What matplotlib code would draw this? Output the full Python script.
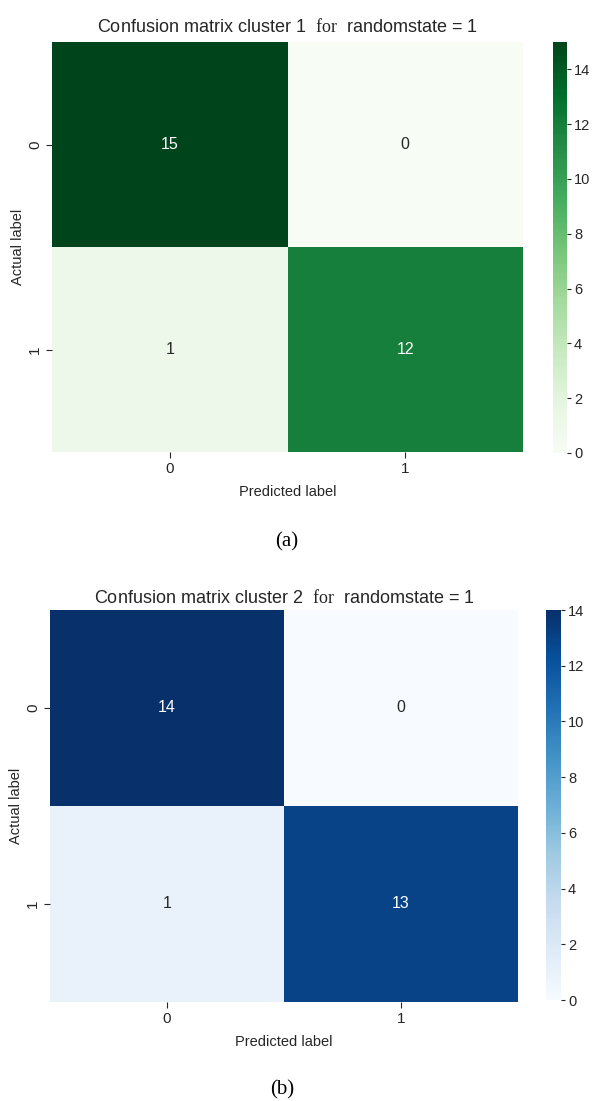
import matplotlib
matplotlib.use("Agg")
import matplotlib.pyplot as plt
import seaborn as sns
import numpy as np
from matplotlib import font_manager as fm

# ---- data ----
class_labels = ["0", "1"]
cm_cluster1 = [[15, 0], [1, 12]]
cm_cluster2 = [[14, 0], [1, 13]]
vmax1 = 15
vmax2 = 14
cbar_ticks = [0, 2, 4, 6, 8, 10, 12, 14]
titles = [r"Confusion matrix cluster 1  $\mathrm{for}$  randomstate = 1",
          r"Confusion matrix cluster 2  $\mathrm{for}$  randomstate = 1"]
captions = ["(a)", "(b)"]

names = {f.name for f in fm.fontManager.ttflist}
sans = "Liberation Sans Narrow" if "Liberation Sans Narrow" in names else (
    "Liberation Sans" if "Liberation Sans" in names else "DejaVu Sans")
serif = "Liberation Serif" if "Liberation Serif" in names else "DejaVu Serif"

plt.rcParams["font.family"] = [sans, "DejaVu Sans"]
plt.rcParams["mathtext.fontset"] = "custom"
plt.rcParams["mathtext.rm"] = serif
plt.rcParams["text.color"] = "#262626"
plt.rcParams["axes.labelcolor"] = "#262626"
plt.rcParams["xtick.color"] = "#262626"
plt.rcParams["ytick.color"] = "#262626"

W, H = 593, 1101
fig = plt.figure(figsize=(W / 100, H / 100), dpi=100)

def fr(x0, y0, x1, y1):
    return [x0 / W, 1 - y1 / H, (x1 - x0) / W, (y1 - y0) / H]

panels = [
    dict(cm=cm_cluster1, cmap="Greens", vmax=vmax1,
         ax=fr(52, 42, 523, 452), cax=fr(553, 42, 567, 453),
         title=titles[0], cap=captions[0], cap_y=542, cap_x=287, tpad=7),
    dict(cm=cm_cluster2, cmap="Blues", vmax=vmax2,
         ax=fr(50, 610, 518, 1002), cax=fr(546, 610, 561, 1000),
         title=titles[1], cap=captions[1], cap_y=1090, cap_x=282, tpad=5),
]

for p in panels:
    ax = fig.add_axes(p["ax"])
    cax = fig.add_axes(p["cax"])
    sns.heatmap(np.array(p["cm"]), annot=True, fmt="d", cmap=p["cmap"],
                vmin=0, vmax=p["vmax"], ax=ax, cbar_ax=cax,
                xticklabels=class_labels, yticklabels=class_labels,
                annot_kws={"fontsize": 11.5})
    ax.set_title(p["title"], fontsize=13, pad=p["tpad"])
    ax.set_xlabel("Predicted label", fontsize=10.5, labelpad=7)
    ax.set_ylabel("Actual label", fontsize=10.5, labelpad=2)
    ax.tick_params(axis="both", labelsize=11, length=4, width=0.8, pad=3)
    for t in ax.get_yticklabels():
        t.set_rotation(90)
        t.set_va("center")
    cax.set_yticks(cbar_ticks)
    cax.tick_params(labelsize=10.5, length=3, width=0.8, pad=2)
    fig.text(p["cap_x"] / W, 1 - p["cap_y"] / H, p["cap"], ha="center", va="center",
             fontsize=15, family=[serif, "DejaVu Serif"], color="black")

fig.savefig("out.png", dpi=100)
